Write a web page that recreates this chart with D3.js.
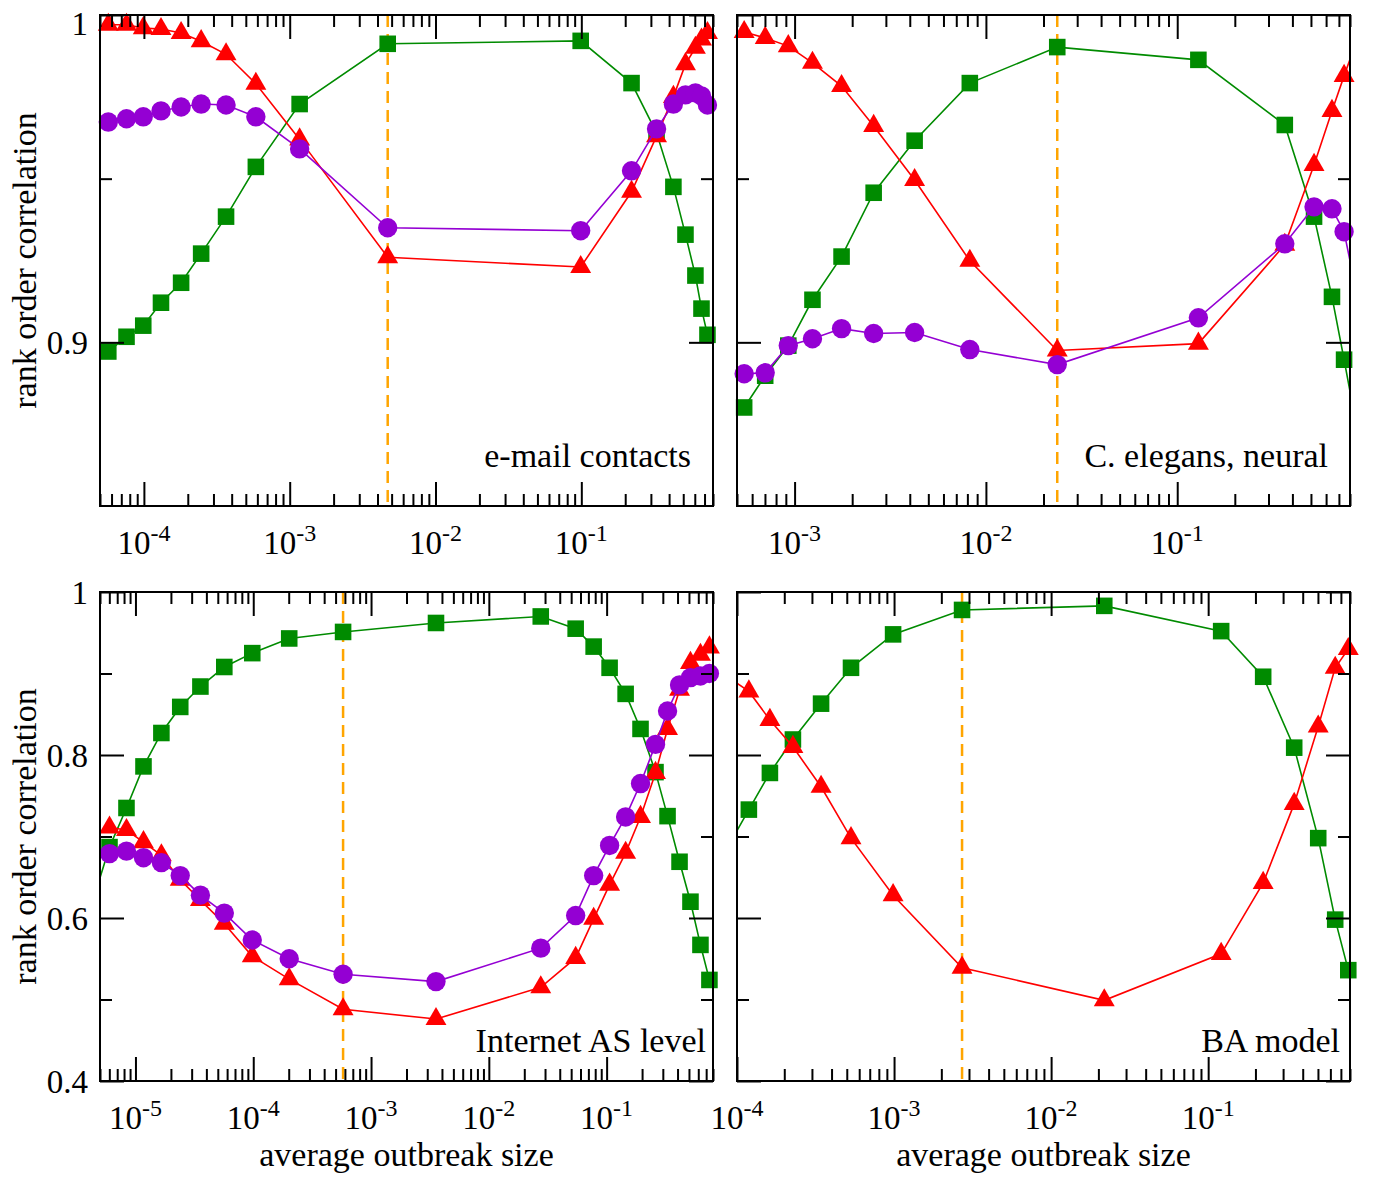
<!DOCTYPE html>
<html>
<head>
<meta charset="utf-8">
<script src="https://cdn.jsdelivr.net/npm/d3@7"></script>
<style>
  body { margin: 0; background: #fff; }
  svg { display: block; font-family: 'Liberation Serif', 'Times New Roman', serif; }
</style>
</head>
<body>
<div id="chart"></div>
<script>
// e-mail contacts
const emailX = [5.7e-5, 7.6e-5, 9.9e-5, 1.31e-4, 1.8e-4, 2.47e-4, 3.66e-4, 5.86e-4, 1.17e-3, 4.7e-3, 0.099, 0.221, 0.328, 0.428, 0.518, 0.606, 0.667, 0.733];
const emailGreen = [0.8972, 0.9017, 0.9051, 0.9121, 0.9182, 0.9271, 0.9384, 0.9536, 0.9728, 0.9912, 0.9921, 0.9792, 0.9640, 0.9475, 0.9329, 0.9204, 0.9103, 0.9023];
const emailRed = [0.997, 0.997, 0.996, 0.9957, 0.9945, 0.992, 0.988, 0.979, 0.962, 0.926, 0.923, 0.946, 0.963, 0.975, 0.985, 0.990, 0.9925, 0.9945];
const emailPurple = [0.9673, 0.9683, 0.9689, 0.9707, 0.9719, 0.9728, 0.9725, 0.9689, 0.9591, 0.9350, 0.9341, 0.9524, 0.9652, 0.9728, 0.9756, 0.9762, 0.9753, 0.9725];
const emailThreshold = 4.7e-3;

// C. elegans, neural
const celegansX = [5.45e-4, 7.02e-4, 9.27e-4, 1.24e-3, 1.76e-3, 2.59e-3, 4.24e-3, 8.24e-3, 0.0236, 0.129, 0.365, 0.519, 0.644, 0.745, 0.871];
const celegansGreen = [0.8801, 0.8898, 0.8990, 0.9130, 0.9262, 0.9457, 0.9616, 0.9792, 0.9902, 0.9863, 0.9664, 0.9384, 0.9139, 0.8947, 0.8734];
const celegansRed = [0.9948, 0.9930, 0.9905, 0.9854, 0.9783, 0.9661, 0.9496, 0.9249, 0.8975, 0.8996, 0.9298, 0.9542, 0.9707, 0.9814, 0.9924];
const celegansPurple = [0.8904, 0.8907, 0.8990, 0.9011, 0.9042, 0.9027, 0.9030, 0.8978, 0.8932, 0.9075, 0.9301, 0.9414, 0.9408, 0.9338, 0.9143];
const celegansThreshold = 0.0236;

// Internet AS level
const internetX = [4.24e-6, 6.02e-6, 8.39e-6, 1.17e-5, 1.66e-5, 2.40e-5, 3.56e-5, 5.68e-5, 9.81e-5, 2.02e-4, 5.79e-4, 3.56e-3, 0.0276, 0.0546, 0.0776, 0.106, 0.145, 0.194, 0.260, 0.329, 0.416, 0.515, 0.626, 0.746];
const internetGreen = [0.616, 0.687, 0.735, 0.786, 0.827, 0.859, 0.884, 0.908, 0.925, 0.943, 0.951, 0.962, 0.970, 0.955, 0.933, 0.907, 0.875, 0.832, 0.779, 0.725, 0.669, 0.620, 0.567, 0.524];
const internetRed = [null, 0.711, 0.708, 0.693, 0.677, 0.647, 0.622, 0.593, 0.553, 0.525, 0.488, 0.476, 0.515, 0.551, 0.599, 0.641, 0.680, 0.724, 0.778, 0.832, 0.880, 0.913, 0.923, 0.932];
const internetPurple = [null, 0.679, 0.682, 0.674, 0.668, 0.652, 0.628, 0.606, 0.573, 0.550, 0.531, 0.522, 0.563, 0.603, 0.652, 0.689, 0.724, 0.765, 0.813, 0.854, 0.886, 0.895, 0.897, 0.900];
const internetThreshold = 5.79e-4;

// BA model
const baX = [8.89e-5, 1.19e-4, 1.62e-4, 2.27e-4, 3.43e-4, 5.32e-4, 9.86e-4, 2.71e-3, 0.0218, 0.121, 0.224, 0.353, 0.502, 0.644, 0.780];
const baGreen = [0.690, 0.733, 0.778, 0.819, 0.863, 0.907, 0.948, 0.978, 0.983, 0.952, 0.896, 0.809, 0.698, 0.598, 0.536];
const baRed = [0.895, 0.878, 0.843, 0.810, 0.761, 0.698, 0.628, 0.539, 0.499, 0.556, 0.643, 0.740, 0.835, 0.907, 0.930];
const baThreshold = 2.71e-3;

const yTitle = 'rank order correlation';
const xTitle = 'average outbreak size';

const seriesStyles = [
  { color: '#008b00', symbol: d3.symbolSquare, size: 275 },
  { color: '#ff0000', symbol: d3.symbolTriangle, size: 190 },
  { color: '#9400d3', symbol: d3.symbolCircle, size: 295 },
];

const panels = [
  {
    label: 'e-mail contacts', x: emailX, series: [emailGreen, emailRed, emailPurple], threshold: emailThreshold,
    xDomain: [5e-5, 0.8], yDomain: [0.85, 1], yMajor: [0.9, 1], yMinor: [0.95], yLabels: true, xTitle: false,
    box: [100, 15, 713, 506], labelAt: [691, 467],
  },
  {
    label: 'C. elegans, neural', x: celegansX, series: [celegansGreen, celegansRed, celegansPurple], threshold: celegansThreshold,
    xDomain: [5e-4, 0.8], yDomain: [0.85, 1], yMajor: [0.9, 1], yMinor: [0.95], yLabels: false, xTitle: false,
    box: [737, 15, 1350, 506], labelAt: [1328, 467],
  },
  {
    label: 'Internet AS level', x: internetX, series: [internetGreen, internetRed, internetPurple], threshold: internetThreshold,
    xDomain: [5e-6, 0.8], yDomain: [0.4, 1], yMajor: [0.4, 0.6, 0.8, 1], yMinor: [0.5, 0.7, 0.9], yLabels: true, xTitle: true,
    box: [100, 592, 713, 1081], labelAt: [706, 1052],
  },
  {
    label: 'BA model', x: baX, series: [baGreen, baRed], threshold: baThreshold,
    xDomain: [1e-4, 0.8], yDomain: [0.4, 1], yMajor: [0.4, 0.6, 0.8, 1], yMinor: [0.5, 0.7, 0.9], yLabels: false, xTitle: true,
    box: [737, 592, 1350, 1081], labelAt: [1340, 1052],
  },
];

function logTicks(domain) {
  const major = [];
  const minor = [];
  const lo = Math.floor(Math.log10(domain[0]));
  const hi = Math.ceil(Math.log10(domain[1]));
  for (let k = lo; k <= hi; k++) {
    for (let m = 1; m <= 9; m++) {
      const v = m * Math.pow(10, k);
      if (v < domain[0] * 0.999 || v > domain[1] * 1.001) continue;
      (m === 1 ? major : minor).push(v);
    }
  }
  return { major, minor };
}

const svg = d3.select('#chart').append('svg')
  .attr('width', 1378)
  .attr('height', 1182);

panels.forEach((p, i) => {
  const [x0, y0, x1, y1] = p.box;
  const x = d3.scaleLog().domain(p.xDomain).range([x0, x1]);
  const y = d3.scaleLinear().domain(p.yDomain).range([y1, y0]);
  const g = svg.append('g');

  const clipId = `clip-${i}`;
  svg.append('clipPath').attr('id', clipId)
    .append('rect')
    .attr('x', x0).attr('y', y0)
    .attr('width', x1 - x0).attr('height', y1 - y0);

  // threshold marker
  g.append('line')
    .attr('x1', x(p.threshold)).attr('x2', x(p.threshold))
    .attr('y1', y0).attr('y2', y1)
    .attr('stroke', '#ffa500')
    .attr('stroke-width', 2.5)
    .attr('stroke-dasharray', '12,7');

  p.series.forEach((values, s) => {
    const style = seriesStyles[s];
    const pts = p.x.map((xv, j) => ({ x: xv, y: values[j] })).filter(d => d.y != null);

    const line = d3.line().x(d => x(d.x)).y(d => y(d.y));

    g.append('path')
      .datum(pts)
      .attr('clip-path', `url(#${clipId})`)
      .attr('fill', 'none')
      .attr('stroke', style.color)
      .attr('stroke-width', 1.6)
      .attr('d', line);

    const sym = d3.symbol().type(style.symbol).size(style.size);

    g.selectAll(null)
      .data(pts.filter(d => d.x >= p.xDomain[0] && d.x <= p.xDomain[1]))
      .enter().append('path')
      .attr('transform', d => `translate(${x(d.x)},${y(d.y)})`)
      .attr('fill', style.color)
      .attr('d', sym);
  });

  // ticks, all pointing inward
  const xt = logTicks(p.xDomain);
  const tickAxes = [
    [d3.axisBottom(x).tickValues(xt.major).tickSize(-24), y1],
    [d3.axisBottom(x).tickValues(xt.minor).tickSize(-12), y1],
    [d3.axisTop(x).tickValues(xt.major).tickSize(-24), y0],
    [d3.axisTop(x).tickValues(xt.minor).tickSize(-12), y0],
  ];
  tickAxes.forEach(([axis, ty]) => {
    const a = g.append('g')
      .attr('transform', `translate(0,${ty})`)
      .call(axis.tickFormat('').tickSizeOuter(0));
    a.select('.domain').remove();
    a.selectAll('line').attr('stroke', '#000').attr('stroke-width', 2);
  });

  const yAxes = [
    [d3.axisLeft(y).tickValues(p.yMajor).tickSize(-24), x0],
    [d3.axisLeft(y).tickValues(p.yMinor).tickSize(-12), x0],
    [d3.axisRight(y).tickValues(p.yMajor).tickSize(-24), x1],
    [d3.axisRight(y).tickValues(p.yMinor).tickSize(-12), x1],
  ];
  yAxes.forEach(([axis, tx]) => {
    const a = g.append('g')
      .attr('transform', `translate(${tx},0)`)
      .call(axis.tickFormat('').tickSizeOuter(0));
    a.select('.domain').remove();
    a.selectAll('line').attr('stroke', '#000').attr('stroke-width', 2);
  });

  g.append('rect')
    .attr('x', x0).attr('y', y0)
    .attr('width', x1 - x0).attr('height', y1 - y0)
    .attr('fill', 'none')
    .attr('stroke', '#000')
    .attr('stroke-width', 2);

  // x tick labels as 10^k
  xt.major.forEach(v => {
    const t = g.append('text')
      .attr('x', x(v))
      .attr('y', y1 + 48)
      .attr('text-anchor', 'middle')
      .attr('font-size', 33);
    t.append('tspan').text('10');
    t.append('tspan')
      .attr('font-size', 24)
      .attr('dy', -13)
      .text(String(Math.round(Math.log10(v))));
  });

  if (p.yLabels) {
    p.yMajor.forEach(v => {
      g.append('text')
        .attr('x', x0 - 12)
        .attr('y', Math.max(y(v), 23))
        .attr('dy', '0.35em')
        .attr('text-anchor', 'end')
        .attr('font-size', 33)
        .text(d3.format('~g')(v));
    });

    g.append('text')
      .attr('transform', `translate(36,${(y0 + y1) / 2}) rotate(-90)`)
      .attr('text-anchor', 'middle')
      .attr('font-size', 34)
      .text(yTitle);
  }

  if (p.xTitle) {
    g.append('text')
      .attr('x', (x0 + x1) / 2)
      .attr('y', 1166)
      .attr('text-anchor', 'middle')
      .attr('font-size', 34)
      .text(xTitle);
  }

  g.append('text')
    .attr('x', p.labelAt[0])
    .attr('y', p.labelAt[1])
    .attr('text-anchor', 'end')
    .attr('font-size', 34)
    .text(p.label);
});
</script>
</body>
</html>
